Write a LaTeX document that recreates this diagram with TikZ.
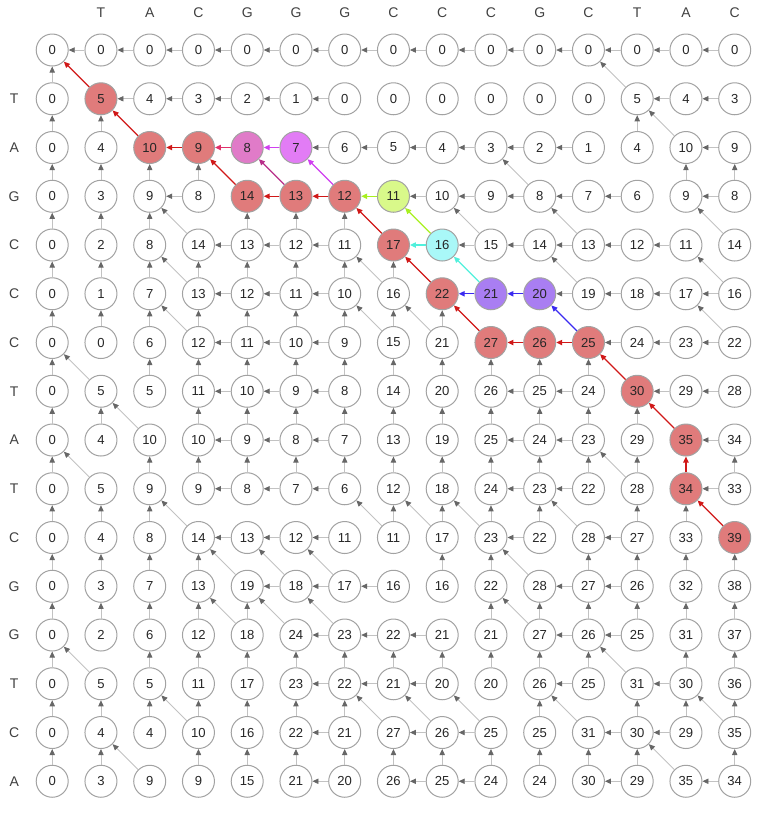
\documentclass[tikz,border=0pt]{standalone}
\usepackage{fontspec}
\setmainfont{Liberation Sans}
\usetikzlibrary{arrows.meta}

\definecolor{bordacel}{HTML}{A2A2A2}
\definecolor{cinzalinha}{HTML}{C2C2C2}
\definecolor{cinzaponta}{HTML}{666666}
\definecolor{celverm}{HTML}{E07B7B}
\definecolor{celrosa}{HTML}{E07BC8}
\definecolor{celvioleta}{HTML}{E27CF5}
\definecolor{cellimao}{HTML}{D9F98A}
\definecolor{celciano}{HTML}{A9F8F8}
\definecolor{celroxo}{HTML}{A97EF2}
\definecolor{vermelho}{HTML}{D01818}
\definecolor{azul}{HTML}{3A2AF0}
\definecolor{ciano}{HTML}{50F0DC}
\definecolor{limao}{HTML}{A8F020}
\definecolor{violeta}{HTML}{D040F0}
\definecolor{magenta}{HTML}{B8308A}
\definecolor{rosa}{HTML}{E0306A}

\begin{document}
\begin{tikzpicture}[
    x=36.56pt, y=-36.56pt,
    font=\fontsize{9.8}{11}\selectfont,
    celula/.style={circle, draw=bordacel, line width=0.75pt,
                   minimum size=24pt, inner sep=0pt, text=black!85},
    letra/.style={text=black!75, font=\fontsize{10.5}{12}\selectfont},
    seta/.style={draw=cinzalinha, line width=0.6pt,
                 -{Triangle[length=4.5pt, width=4pt, color=cinzaponta]}},
    rastro/.style={line width=0.9pt, -{Triangle[length=4.5pt, width=4pt]}}
  ]
  \useasboundingbox (-1.071,-1.026) rectangle (14.683,15.692);

  % ── sequências ──────────────────────────────────────────────────
  \foreach \ch [count=\j] in {T,A,C,G,G,G,C,C,C,G,C,T,A,C} {
    \node[letra] (col-\j) at (\j,-0.76) {\ch};
    \expandafter\xdef\csname lc-\j\endcsname{\ch}
  }
  \foreach \ch [count=\i] in {T,A,G,C,C,C,T,A,T,C,G,G,T,C,A} {
    \node[letra] (lin-\i) at (-0.78,\i) {\ch};
    \expandafter\xdef\csname ll-\i\endcsname{\ch}
  }

  % ── cores das células do caminho ────────────────────────────────
  \foreach \pos/\tint in {1-1/celverm, 2-2/celverm, 2-3/celverm, 3-4/celverm,
      3-5/celverm, 3-6/celverm, 4-7/celverm, 5-8/celverm, 6-9/celverm,
      6-10/celverm, 6-11/celverm, 7-12/celverm, 8-13/celverm, 9-13/celverm,
      10-14/celverm, 2-4/celrosa, 2-5/celvioleta, 3-7/cellimao,
      4-8/celciano, 5-9/celroxo, 5-10/celroxo}
    \expandafter\xdef\csname fundo-\pos\endcsname{\tint};

  % ── matriz de pontuação ─────────────────────────────────────────
  \foreach \linha [count=\i from 0] in {
      {0,0,0,0,0,0,0,0,0,0,0,0,0,0,0},
      {0,5,4,3,2,1,0,0,0,0,0,0,5,4,3},
      {0,4,10,9,8,7,6,5,4,3,2,1,4,10,9},
      {0,3,9,8,14,13,12,11,10,9,8,7,6,9,8},
      {0,2,8,14,13,12,11,17,16,15,14,13,12,11,14},
      {0,1,7,13,12,11,10,16,22,21,20,19,18,17,16},
      {0,0,6,12,11,10,9,15,21,27,26,25,24,23,22},
      {0,5,5,11,10,9,8,14,20,26,25,24,30,29,28},
      {0,4,10,10,9,8,7,13,19,25,24,23,29,35,34},
      {0,5,9,9,8,7,6,12,18,24,23,22,28,34,33},
      {0,4,8,14,13,12,11,11,17,23,22,28,27,33,39},
      {0,3,7,13,19,18,17,16,16,22,28,27,26,32,38},
      {0,2,6,12,18,24,23,22,21,21,27,26,25,31,37},
      {0,5,5,11,17,23,22,21,20,20,26,25,31,30,36},
      {0,4,4,10,16,22,21,27,26,25,25,31,30,29,35},
      {0,3,9,9,15,21,20,26,25,24,24,30,29,35,34}} {
    \foreach \v [count=\j from 0] in \linha {
      \edef\cor{\ifcsname fundo-\i-\j\endcsname
        \csname fundo-\i-\j\endcsname\else white\fi}
      \node[celula, fill=\cor] (c-\i-\j) at (\j,\i) {\v};
      \expandafter\xdef\csname sw-\i-\j\endcsname{\v}
    }
  }

  % ── caminhos de retrocesso ──────────────────────────────────────
  \foreach \orig/\dest/\tint in {
      10-14/9-13/vermelho, 9-13/8-13/vermelho, 8-13/7-12/vermelho,
      7-12/6-11/vermelho, 6-11/6-10/vermelho, 6-10/6-9/vermelho,
      6-9/5-8/vermelho, 5-8/4-7/vermelho, 4-7/3-6/vermelho,
      3-6/3-5/vermelho, 3-5/3-4/vermelho, 3-4/2-3/vermelho,
      2-3/2-2/vermelho, 2-2/1-1/vermelho, 1-1/0-0/vermelho,
      6-11/5-10/azul, 5-10/5-9/azul, 5-9/5-8/azul,
      5-9/4-8/ciano, 4-8/4-7/ciano,
      4-8/3-7/limao, 3-7/3-6/limao,
      3-6/2-5/violeta, 2-5/2-4/violeta,
      3-5/2-4/magenta, 2-4/2-3/rosa} {
    \draw[rastro, draw=\tint] (c-\orig) -- (c-\dest);
    \expandafter\xdef\csname salta-\orig-\dest\endcsname{}
  }

  % ── setas cinzentas (todas as origens do máximo) ────────────────
  \foreach \i in {0,...,15} {
    \foreach \j in {0,...,14} {
      \pgfmathtruncatemacro\ia{\i-1}
      \pgfmathtruncatemacro\ja{\j-1}
      \edef\aqui{\csname sw-\i-\j\endcsname}
      \ifnum\i=0
        \ifnum\j>0 \draw[seta] (c-\i-\j) -- (c-\i-\ja); \fi
      \else\ifnum\j=0
        \draw[seta] (c-\i-\j) -- (c-\ia-\j);
      \else
        \edef\esq{\csname sw-\i-\ja\endcsname}
        \edef\cima{\csname sw-\ia-\j\endcsname}
        \edef\diag{\csname sw-\ia-\ja\endcsname}
        \edef\letraL{\csname ll-\i\endcsname}
        \edef\letraC{\csname lc-\j\endcsname}
        \ifnum\aqui=\numexpr\esq-1\relax
          \ifcsname salta-\i-\j-\i-\ja\endcsname\else
            \draw[seta] (c-\i-\j) -- (c-\i-\ja);
          \fi
        \fi
        \ifnum\aqui=\numexpr\cima-1\relax
          \ifcsname salta-\i-\j-\ia-\j\endcsname\else
            \draw[seta] (c-\i-\j) -- (c-\ia-\j);
          \fi
        \fi
        \ifx\letraL\letraC
          \ifnum\aqui=\numexpr\diag+5\relax
            \ifcsname salta-\i-\j-\ia-\ja\endcsname\else
              \draw[seta] (c-\i-\j) -- (c-\ia-\ja);
            \fi
          \fi
        \fi
      \fi\fi
    }
  }

\end{tikzpicture}
\end{document}
